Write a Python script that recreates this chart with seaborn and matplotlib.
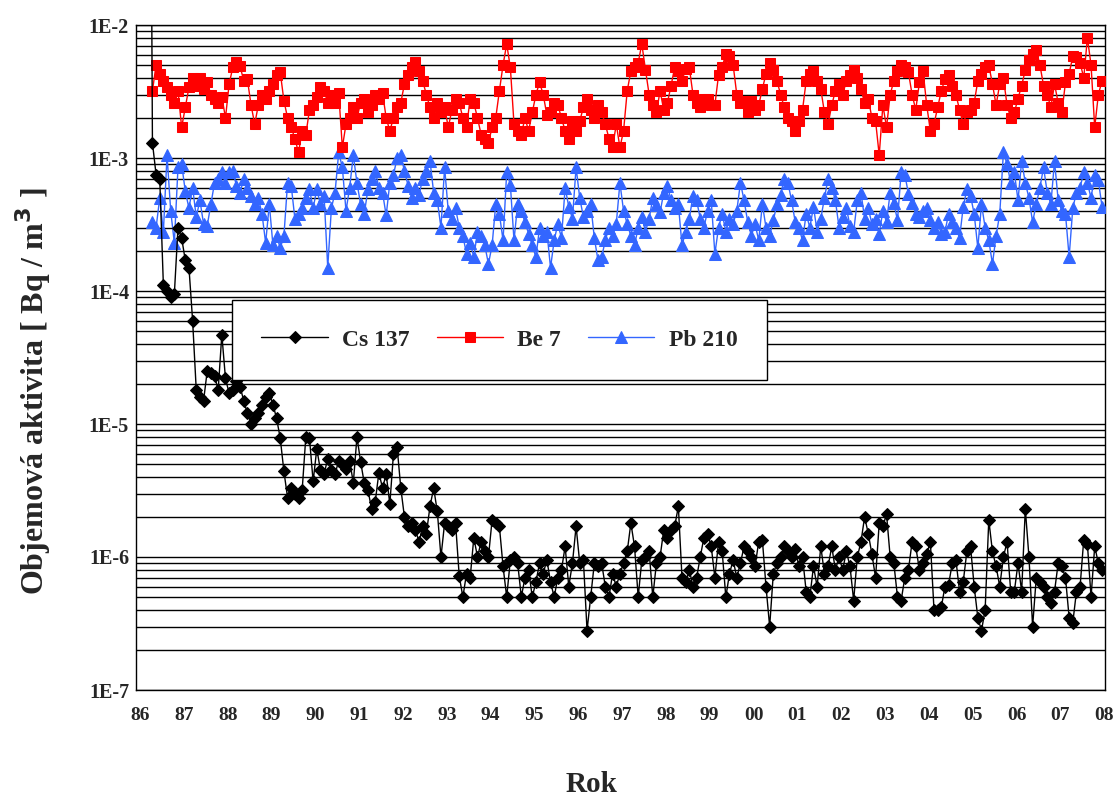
import numpy as np
import pandas as pd
import matplotlib
matplotlib.use("Agg")
import matplotlib.pyplot as plt
import matplotlib.transforms as mtransforms
from matplotlib.ticker import LogLocator, FixedLocator, FuncFormatter, NullFormatter
import seaborn as sns

# ---------------- data (monthly values) ----------------
START_YEAR, START_MONTH = 1986, 5          # first monthly sample: May 1986
YEAR_TICKS = list(range(1986, 2009))
YEAR_LABELS = ["86", "87", "88", "89", "90", "91", "92", "93", "94", "95", "96",
               "97", "98", "99", "00", "01", "02", "03", "04", "05", "06", "07", "08"]

# Cs 137 [Bq/m3]; first value is the off-scale early-May 1986 peak
CS_EARLY_T = [1986.35]
CS_EARLY = [5.0e-2]
CS137 = [
    1.3e-3, 7.5e-4, 7.0e-4, 1.1e-4, 1.0e-4, 9.0e-5, 9.5e-5, 3.0e-4,                      # 86
    2.5e-4, 1.7e-4, 1.5e-4, 6.0e-5, 1.8e-5, 1.6e-5, 1.5e-5, 2.5e-5, 2.4e-5, 2.3e-5, 1.8e-5, 4.7e-5,  # 87
    2.2e-5, 1.7e-5, 1.8e-5, 2.1e-5, 1.9e-5, 1.5e-5, 1.2e-5, 1.0e-5, 1.1e-5, 1.2e-5, 1.4e-5, 1.6e-5,  # 88
    1.7e-5, 1.4e-5, 1.1e-5, 7.8e-6, 4.4e-6, 2.8e-6, 3.3e-6, 3.0e-6, 2.8e-6, 3.2e-6, 8.0e-6, 7.8e-6,  # 89
    3.7e-6, 6.5e-6, 4.5e-6, 4.2e-6, 5.5e-6, 4.5e-6, 4.2e-6, 5.3e-6, 5.0e-6, 4.6e-6, 5.3e-6, 3.6e-6,  # 90
    8.0e-6, 5.2e-6, 3.6e-6, 3.2e-6, 2.3e-6, 2.6e-6, 4.3e-6, 3.3e-6, 4.2e-6, 2.5e-6, 6.0e-6, 6.7e-6,  # 91
    3.3e-6, 2.0e-6, 1.7e-6, 1.8e-6, 1.6e-6, 1.3e-6, 1.7e-6, 1.5e-6, 2.4e-6, 3.3e-6, 2.2e-6, 1.0e-6,  # 92
    1.8e-6, 1.7e-6, 1.6e-6, 1.8e-6, 0.72e-6, 0.5e-6, 0.75e-6, 0.7e-6, 1.4e-6, 1.0e-6, 1.3e-6, 1.1e-6,  # 93
    1.0e-6, 1.9e-6, 1.8e-6, 1.7e-6, 0.85e-6, 0.5e-6, 0.95e-6, 1.0e-6, 0.9e-6, 0.5e-6, 0.7e-6, 0.8e-6,  # 94
    0.5e-6, 0.65e-6, 0.9e-6, 0.75e-6, 0.95e-6, 0.65e-6, 0.5e-6, 0.7e-6, 0.8e-6, 1.2e-6, 0.6e-6, 0.9e-6,  # 95
    1.7e-6, 0.9e-6, 0.95e-6, 0.28e-6, 0.5e-6, 0.9e-6, 0.85e-6, 0.9e-6, 0.6e-6, 0.5e-6, 0.75e-6, 0.6e-6,  # 96
    0.75e-6, 0.9e-6, 1.1e-6, 1.8e-6, 1.2e-6, 0.5e-6, 0.95e-6, 1.0e-6, 1.1e-6, 0.5e-6, 0.9e-6, 1.0e-6,  # 97
    1.6e-6, 1.4e-6, 1.6e-6, 1.7e-6, 2.4e-6, 0.7e-6, 0.65e-6, 0.8e-6, 0.6e-6, 0.7e-6, 1.0e-6, 1.4e-6,  # 98
    1.5e-6, 1.2e-6, 0.7e-6, 1.3e-6, 1.1e-6, 0.5e-6, 0.75e-6, 0.95e-6, 0.7e-6, 0.9e-6, 1.2e-6, 1.1e-6,  # 99
    1.0e-6, 0.85e-6, 1.3e-6, 1.35e-6, 0.6e-6, 0.3e-6, 0.75e-6, 0.9e-6, 1.0e-6, 1.2e-6, 1.1e-6, 1.0e-6,  # 00
    1.15e-6, 0.85e-6, 1.0e-6, 0.55e-6, 0.5e-6, 0.85e-6, 0.6e-6, 1.2e-6, 0.75e-6, 0.85e-6, 1.2e-6, 0.8e-6,  # 01
    1.0e-6, 0.8e-6, 1.1e-6, 0.85e-6, 0.47e-6, 1.0e-6, 1.3e-6, 2.0e-6, 1.5e-6, 1.05e-6, 0.7e-6, 1.8e-6,  # 02
    1.7e-6, 2.1e-6, 1.0e-6, 0.9e-6, 0.5e-6, 0.47e-6, 0.7e-6, 0.8e-6, 1.3e-6, 1.2e-6, 0.8e-6, 0.9e-6,  # 03
    1.05e-6, 1.3e-6, 0.4e-6, 0.4e-6, 0.42e-6, 0.6e-6, 0.62e-6, 0.9e-6, 0.95e-6, 0.55e-6, 0.65e-6, 1.1e-6,  # 04
    1.2e-6, 0.6e-6, 0.35e-6, 0.28e-6, 0.4e-6, 1.9e-6, 1.1e-6, 0.85e-6, 0.6e-6, 1.0e-6, 1.3e-6, 0.55e-6,  # 05
    0.55e-6, 0.9e-6, 0.55e-6, 2.3e-6, 1.0e-6, 0.3e-6, 0.7e-6, 0.65e-6, 0.6e-6, 0.5e-6, 0.45e-6, 0.55e-6,  # 06
    0.9e-6, 0.85e-6, 0.7e-6, 0.35e-6, 0.32e-6, 0.55e-6, 0.6e-6, 1.35e-6, 1.25e-6, 0.5e-6, 1.2e-6, 0.9e-6,  # 07
    0.8e-6,                                                                                  # 08
]

# Be 7 [mBq/m3]
BE7_mBq = [
    3.2, 5.0, 4.3, 3.8, 3.4, 3.0, 2.6, 3.2,                                  # 86
    1.7, 2.4, 3.4, 4.0, 3.5, 4.0, 3.3, 3.7, 3.0, 2.8, 2.6, 2.9,              # 87
    2.0, 3.6, 4.8, 5.3, 4.9, 3.8, 3.9, 2.5, 1.8, 2.5, 3.0, 2.8,              # 88
    3.2, 3.6, 4.2, 4.4, 2.7, 2.0, 1.7, 1.4, 1.1, 1.6, 1.5, 2.3,              # 89
    2.5, 2.9, 3.4, 3.2, 2.6, 3.0, 2.6, 3.1, 1.2, 1.8, 2.0, 2.4,              # 90
    2.0, 2.6, 2.8, 2.2, 2.5, 3.0, 2.8, 3.1, 2.0, 1.6, 2.0, 2.4,              # 91
    2.6, 3.6, 4.2, 4.8, 5.3, 4.5, 3.8, 3.0, 2.4, 2.0, 2.6, 2.2,              # 92
    2.4, 1.7, 2.3, 2.8, 2.6, 2.0, 1.7, 2.8, 2.6, 2.0, 1.5, 1.4,              # 93
    1.3, 1.7, 2.0, 3.2, 5.0, 7.2, 4.8, 1.8, 1.6, 1.5, 2.0, 1.6,              # 94
    2.2, 3.0, 3.7, 3.0, 2.1, 2.2, 2.6, 2.5, 2.0, 1.6, 1.4, 1.9,              # 95
    1.6, 1.9, 2.4, 2.8, 2.3, 2.0, 2.5, 2.2, 1.8, 1.4, 1.2, 1.8,              # 96
    1.2, 1.6, 3.2, 4.5, 4.8, 5.2, 7.2, 4.6, 3.0, 2.5, 2.2, 3.2,              # 97
    2.3, 2.6, 3.5, 4.8, 4.5, 3.8, 4.7, 4.8, 3.0, 2.6, 2.4, 2.8,              # 98
    2.8, 2.5, 2.5, 4.2, 4.8, 6.1, 5.8, 5.0, 3.0, 2.6, 2.7, 2.2,              # 99
    2.7, 2.3, 2.5, 3.3, 4.3, 5.2, 4.6, 3.8, 3.0, 2.4, 2.0, 1.9,              # 00
    1.6, 1.9, 2.3, 3.8, 4.3, 4.5, 3.8, 3.3, 2.2, 1.8, 2.5, 3.2,              # 01
    3.6, 3.0, 3.8, 4.2, 4.6, 4.0, 3.3, 2.6, 2.8, 2.0, 1.9, 1.05,             # 02
    2.5, 1.7, 3.0, 3.8, 4.5, 5.0, 4.8, 4.4, 3.0, 2.3, 3.7, 4.5,              # 03
    2.5, 1.6, 1.8, 2.4, 3.2, 3.9, 4.2, 3.5, 3.0, 2.3, 1.8, 2.2,              # 04
    2.3, 2.6, 3.8, 4.3, 4.8, 5.0, 3.6, 2.5, 3.6, 4.0, 2.5, 2.0,              # 05
    2.2, 2.8, 3.5, 4.6, 5.5, 6.1, 6.5, 5.0, 3.5, 3.0, 2.4, 3.6,              # 06
    2.6, 2.2, 3.7, 4.3, 5.8, 5.7, 5.2, 4.0, 8.0, 5.0, 1.7, 3.0,              # 07
    3.8,                                                                     # 08
]

# Pb 210 [x 1E-4 Bq/m3]
PB210_e4 = [
    3.3, 3.0, 5.0, 2.8, 10.5, 4.0, 2.3, 8.5,                                 # 86
    9.0, 5.6, 4.2, 6.0, 3.6, 4.8, 3.2, 3.1, 4.5, 6.5, 7.0, 7.8,              # 87
    6.5, 7.8, 8.0, 6.2, 5.5, 7.0, 6.0, 5.2, 4.5, 5.0, 3.8, 2.3,              # 88
    4.5, 2.2, 2.6, 2.1, 2.6, 6.5, 6.2, 3.5, 3.8, 4.2, 5.0, 5.8,              # 89
    4.2, 5.8, 4.5, 5.2, 1.5, 4.2, 5.5, 11.0, 8.5, 4.0, 6.0, 10.5,            # 90
    6.5, 4.5, 3.8, 5.8, 7.0, 8.0, 6.0, 5.5, 3.7, 6.5, 7.5, 10.0,             # 91
    10.5, 8.0, 6.2, 5.0, 6.0, 5.3, 7.0, 8.0, 9.5, 5.5, 4.8, 3.0,             # 92
    8.5, 4.0, 3.5, 4.2, 3.0, 2.6, 1.9, 2.3, 1.8, 2.8, 2.6, 2.2,              # 93
    1.6, 2.2, 4.5, 3.8, 2.4, 7.8, 6.3, 2.4, 4.5, 4.0, 3.3, 2.7,              # 94
    2.2, 1.8, 3.0, 2.6, 2.8, 1.5, 2.4, 3.2, 2.5, 6.0, 4.3, 3.5,              # 95
    8.5, 5.0, 3.6, 4.0, 4.5, 2.5, 1.7, 1.8, 2.4, 3.0, 2.6, 3.2,              # 96
    6.5, 4.0, 3.2, 2.6, 2.2, 3.0, 3.6, 2.8, 3.5, 5.0, 4.4, 3.9,              # 97
    5.5, 6.2, 4.8, 4.2, 4.5, 2.2, 2.8, 3.5, 5.2, 4.8, 3.5, 3.0,              # 98
    4.0, 4.8, 1.9, 3.0, 3.8, 2.8, 3.5, 3.2, 4.0, 6.5, 4.8, 3.3,              # 99
    2.6, 3.2, 2.4, 4.5, 3.0, 2.6, 3.4, 4.5, 5.3, 7.0, 6.5, 4.8,              # 00
    3.3, 3.0, 2.4, 3.8, 3.0, 4.3, 2.8, 3.5, 5.0, 7.0, 6.0, 4.8,              # 01
    3.0, 3.6, 4.2, 3.1, 2.8, 4.8, 5.5, 3.5, 4.2, 3.2, 3.5, 2.7,              # 02
    4.0, 3.3, 5.5, 4.6, 3.4, 7.8, 7.5, 5.4, 4.6, 3.8, 3.6, 4.0,              # 03
    4.2, 3.4, 3.0, 3.3, 2.7, 2.8, 3.8, 3.3, 3.0, 2.5, 4.3, 5.8,              # 04
    5.2, 3.8, 2.1, 4.5, 3.0, 2.4, 1.6, 2.6, 3.8, 11.0, 9.0, 6.5,             # 05
    7.8, 4.8, 9.5, 6.5, 5.0, 3.3, 4.5, 6.0, 8.5, 5.5, 4.5, 9.5,              # 06
    4.8, 4.0, 3.8, 1.8, 4.2, 5.5, 6.0, 7.8, 6.5, 5.0, 7.5, 6.8,              # 07
    4.3,                                                                     # 08
]

# ---------------- build tidy frame ----------------
n = len(CS137)
months = np.arange(n)
t = START_YEAR + (START_MONTH - 1 + months + 0.5) / 12.0

cs_t = np.concatenate([CS_EARLY_T, t])
cs_v = np.concatenate([CS_EARLY, CS137])
be_v = np.array(BE7_mBq) * 1e-3
pb_v = np.array(PB210_e4) * 1e-4

df = pd.concat([
    pd.DataFrame({"t": cs_t, "v": cs_v, "s": "Cs 137"}),
    pd.DataFrame({"t": t, "v": be_v, "s": "Be 7"}),
    pd.DataFrame({"t": t, "v": pb_v, "s": "Pb 210"}),
], ignore_index=True)

# ---------------- plot ----------------
sns.set_style("white")
plt.rcParams["font.family"] = ["Liberation Serif", "DejaVu Serif"]
plt.rcParams["font.weight"] = "bold"

fig = plt.figure(figsize=(11.13, 7.99), dpi=100)
ax = fig.add_axes([136 / 1113, 1 - 690 / 799, (1105 - 136) / 1113, (690 - 25) / 799])

styles = {
    "Cs 137": dict(color="black", marker="D", ms=6.5),
    "Be 7": dict(color="#FF0000", marker="s", ms=7),
    "Pb 210": dict(color="#3366FF", marker="^", ms=8),
}
for name in ["Pb 210", "Be 7", "Cs 137"]:
    st = styles[name]
    sub = df[df["s"] == name]
    sns.lineplot(data=sub, x="t", y="v", ax=ax, color=st["color"], marker=st["marker"],
                 markersize=st["ms"], markeredgecolor=st["color"], linewidth=1.0,
                 label=name, sort=False, estimator=None, zorder=3)

ax.set_yscale("log")
ax.set_ylim(1e-7, 1e-2)
ax.set_xlim(1986.0, 2008.11)

ax.yaxis.set_major_locator(LogLocator(base=10, numticks=10))
ax.yaxis.set_minor_locator(LogLocator(base=10, subs=np.arange(2, 10), numticks=100))
ax.yaxis.set_major_formatter(FuncFormatter(lambda v, p: f"1E{int(round(np.log10(v)))}"))
ax.yaxis.set_minor_formatter(NullFormatter())
ax.grid(False)
ax.yaxis.grid(True, which="both", color="black", linewidth=1.0)
ax.set_axisbelow(True)

ax.xaxis.set_major_locator(FixedLocator(YEAR_TICKS))
ax.set_xticklabels(YEAR_LABELS)
ax.tick_params(axis="x", which="major", direction="out", length=6, width=1, color="black",
               labelsize=14, pad=6)
ax.tick_params(axis="y", which="both", length=0, labelsize=14.5, pad=5)
shift = mtransforms.ScaledTranslation(4 / 100, 0, fig.dpi_scale_trans)
for lab in ax.get_xticklabels():
    lab.set_fontweight("bold")
    lab.set_transform(lab.get_transform() + shift)
for lab in ax.get_yticklabels():
    lab.set_fontweight("bold")

for sp in ax.spines.values():
    sp.set_color("black")
    sp.set_linewidth(1.0)
    sp.set_visible(True)

ax.set_xlabel("Rok", fontsize=21, fontweight="bold")
ax.set_ylabel("Objemová aktivita [ Bq / m$^{\\mathbf{3}}$ ]", fontsize=23, fontweight="bold")
ax.xaxis.set_label_coords(0.47, -0.122)
ax.yaxis.set_label_coords(-0.086, 0.45)

handles, labels = ax.get_legend_handles_labels()
order = [labels.index(k) for k in ["Cs 137", "Be 7", "Pb 210"]]
leg = ax.legend([handles[i] for i in order], [labels[i] for i in order], ncol=3,
                loc="lower left", bbox_to_anchor=(0.099, 0.466, 0.552, 0.125), mode="expand",
                frameon=True, fancybox=False, framealpha=1, edgecolor="black",
                prop={"family": "Liberation Serif", "weight": "bold", "size": 17},
                handlelength=2.8, handletextpad=0.6, borderpad=1.25, columnspacing=1.5,
                borderaxespad=0)
leg.get_frame().set_linewidth(1.0)
leg.set_zorder(10)

fig.savefig("out.png", dpi=100, facecolor="white")
